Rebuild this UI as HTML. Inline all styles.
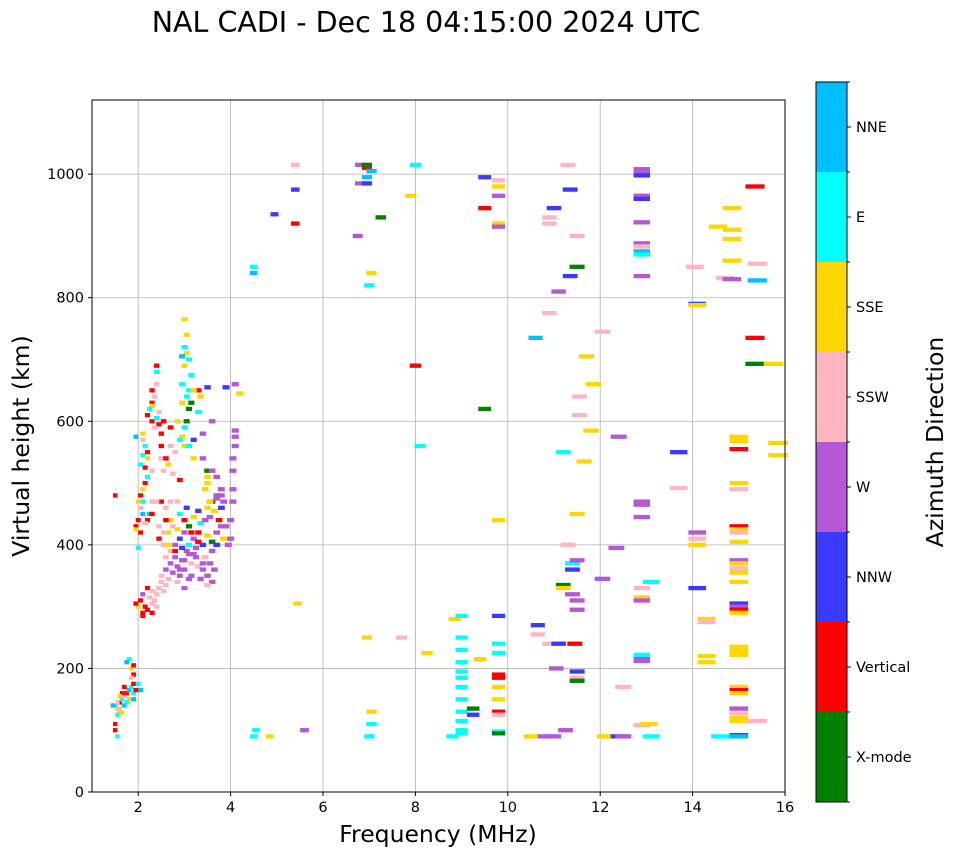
<!DOCTYPE html>
<html><head><meta charset="utf-8">
<style>
html,body{margin:0;padding:0;background:#fff;}
svg{display:block;font-family:"DejaVu Sans","Liberation Sans",sans-serif;}
</style></head>
<body>
<svg id="chart" width="958" height="857" viewBox="0 0 958 857">
<text x="426" y="32" font-size="28.5" text-anchor="middle">NAL CADI - Dec 18 04:15:00 2024 UTC</text>
<g id="grid"></g>
<g id="marks"></g>
<rect x="92" y="100" width="693" height="692" fill="none" stroke="#000" stroke-width="1"/>
<g id="axes"></g>
<text x="438" y="842" font-size="23.5" text-anchor="middle">Frequency (MHz)</text>
<text x="0" y="0" font-size="23.5" text-anchor="middle" transform="translate(29,446) rotate(-90)">Virtual height (km)</text>
<g id="cbar"></g>
<text x="0" y="0" font-size="23.5" text-anchor="middle" transform="translate(943,442) rotate(-90)">Azimuth Direction</text>
</svg>
<script>
const dirLabels=["X-mode","Vertical","NNW","W","SSW","SSE","E","NNE"];
const dirColors=["#008000","#ff0000","#3a3aff","#b558d6","#ffb6c1","#ffd700","#00ffff","#00bfff"];
const xTicks=[2,4,6,8,10,12,14,16];
const yTicks=[0,200,400,600,800,1000];
const lowCluster=[[1.5,140,7],[1.55,135,5],[1.6,145,1],[1.65,150,6],[1.7,155,4],[1.6,130,5],[1.55,125,6],[1.75,160,1],[1.8,165,7],[1.85,170,6],[1.7,140,7],[1.65,160,1],[1.8,150,5],[1.9,175,1],[1.9,190,1],[1.85,200,5],[1.8,215,6],[1.9,205,1],[1.75,210,7],[1.5,100,1],[1.55,90,6],[1.6,155,5],[1.7,170,1],[1.85,185,4],[2.05,165,7],[2.0,175,6],[1.9,160,6],[1.5,110,1],[1.55,145,4],[1.45,140,7],[1.6,135,4],[1.65,128,5],[1.75,145,6],[1.9,150,7],[1.95,165,1]];
const layerA=[[2.1,290,1],[2.15,300,1],[2.2,295,1],[2.3,305,4],[2.35,310,4],[2.4,320,4],[2.45,330,4],[2.05,310,1],[2.25,315,4],[2.1,320,3],[2.3,290,1],[2.5,340,4],[2.55,325,4],[2.6,335,4],[2.65,345,4],[2.2,330,1],[2.4,300,4],[2.0,300,5],[1.95,305,1],[2.1,285,1],[2.3,325,4]];
const layerB=[[2.6,360,3],[2.7,370,3],[2.75,355,3],[2.8,380,3],[2.85,365,3],[2.9,350,3],[2.95,375,3],[3.0,360,3],[3.05,390,3],[3.1,345,3],[3.15,370,4],[3.2,385,3],[3.25,395,3],[3.3,365,4],[3.35,345,3],[3.4,360,3],[3.45,380,4],[3.5,350,3],[3.55,370,3],[3.6,390,3],[3.65,360,3],[2.7,390,4],[2.8,400,3],[2.9,410,2],[3.0,420,3],[3.1,400,6],[3.2,410,3],[3.3,420,1],[3.4,400,2],[3.5,415,5],[3.6,405,0],[3.7,420,3],[3.75,440,1],[3.8,430,3],[3.85,410,5],[3.7,400,2],[2.5,350,4],[2.6,380,4],[2.55,400,4],[2.65,420,5],[2.7,440,5],[2.75,430,4],[2.85,425,5],[2.9,450,6],[3.0,440,1],[3.05,460,2],[3.1,430,0],[3.2,445,5],[3.3,455,2],[3.35,435,6],[3.45,440,3],[3.5,460,5],[3.55,445,3],[3.6,470,0],[3.65,455,5],[3.7,475,3],[3.8,480,3],[3.8,460,2],[3.9,430,3],[4.0,440,3],[4.0,410,3],[3.95,400,3],[2.95,395,2],[3.25,380,3],[2.85,340,4],[3.0,330,3],[3.15,350,3],[3.6,340,3],[3.5,335,4],[2.8,390,1],[3.3,405,1],[3.15,420,1],[2.9,360,3],[3.0,375,3],[3.1,385,3],[3.4,370,3]];
const layerC=[[3.5,500,5],[3.5,510,5],[3.45,490,5],[3.5,520,0],[3.4,540,3],[3.4,580,3],[3.6,520,3],[3.7,510,3],[3.8,490,3],[3.85,470,3],[3.7,480,3],[4.05,470,3],[4.05,490,3],[4.05,520,3],[4.1,560,3],[4.1,575,3],[4.05,540,3],[4.1,585,3],[4.1,660,3],[3.9,655,2],[4.2,645,5],[3.6,600,3],[3.3,650,1],[3.5,655,2],[3.35,640,5],[3.3,615,6],[3.2,570,2],[3.55,470,5]];
const upperCluster=[[3.0,765,5],[3.05,740,5],[3.0,720,6],[3.05,710,5],[2.95,705,7],[3.1,700,6],[3.0,690,5],[2.95,660,6],[3.1,650,6],[3.05,640,6],[3.15,630,0],[2.95,630,5],[3.1,620,0],[3.05,600,0],[3.0,590,6],[2.95,575,5],[3.0,560,5],[2.9,570,6],[3.15,675,6],[3.2,650,5],[2.85,600,5],[3.1,560,6],[3.2,540,5]];
const layerD=[[2.4,690,1],[2.4,680,6],[2.4,660,4],[2.35,640,4],[2.3,630,1],[2.3,625,5],[2.25,620,6],[2.2,610,1],[2.3,600,1],[2.4,605,6],[2.45,595,1],[2.35,590,4],[2.5,580,1],[2.1,580,5],[2.1,570,4],[2.15,560,6],[2.2,550,1],[2.1,545,6],[2.2,540,5],[2.05,530,6],[2.15,525,1],[2.2,510,6],[2.15,500,1],[2.3,520,4],[2.1,490,5],[2.05,480,1],[2.1,470,6],[2.0,470,5],[2.05,460,4],[2.1,450,7],[2.2,440,1],[2.0,440,1],[1.95,430,1],[2.05,420,1],[1.95,425,5],[2.15,435,4],[2.25,450,7],[2.3,470,4],[2.0,395,6],[2.5,540,4],[2.55,520,4],[2.6,540,1],[2.5,560,1],[2.65,530,5],[2.5,470,1],[2.4,470,4],[2.6,460,4],[2.7,470,4],[2.3,450,1],[2.45,430,4],[2.45,410,1],[2.55,420,4],[2.6,440,1],[2.65,400,5],[1.5,480,1],[2.3,650,1],[2.45,615,4],[2.55,600,1],[2.7,590,1],[2.7,560,4],[2.8,550,4],[2.75,515,4],[2.85,470,4],[2.9,505,1],[1.95,575,7]];
const sparse=[[4.5,850,6],[4.5,840,7],[4.55,100,6],[4.5,90,6],[4.95,935,2],[4.85,90,5],[5.4,920,1],[5.4,975,2],[5.4,1015,4],[5.45,305,5],[5.6,100,3],[6.8,1015,3],[6.8,985,3],[6.75,900,3],[6.95,1010,1],[6.95,1015,0],[6.95,995,7],[6.95,985,2],[7.05,1005,7],[7.0,820,6],[7.05,840,5],[7.25,930,0],[6.95,250,5],[7.05,130,5],[7.05,110,6],[7.0,90,6],[7.7,250,4],[7.9,965,5],[8.0,1015,6],[8.0,690,1],[8.1,560,6],[8.25,225,5],[8.85,280,5],[8.8,90,6],[9.0,285,6],[9.0,250,6],[9.0,230,6],[9.0,210,6],[9.0,195,6],[9.0,185,6],[9.0,170,6],[9.0,150,6],[9.0,130,6],[9.0,115,6],[9.0,100,6],[9.0,95,6],[9.25,135,0],[9.25,125,2],[9.5,620,0],[9.5,995,2],[9.5,945,1],[9.4,215,5],[9.8,990,4],[9.8,980,5],[9.8,965,3],[9.8,920,5],[9.8,915,3],[9.8,440,5],[9.8,285,2],[9.8,240,6],[9.8,225,6],[9.8,190,1],[9.8,185,1],[9.8,170,5],[9.8,150,5],[9.8,130,1],[9.8,125,4],[9.8,98,6],[9.8,95,0],[10.6,735,7],[10.65,270,2],[10.65,255,4],[10.5,90,5],[10.8,90,3],[10.9,775,4],[11.0,945,2],[10.9,930,4],[10.9,920,4],[10.9,240,4],[11.0,90,3],[11.1,810,3],[11.2,550,6],[11.2,335,0],[11.2,330,5],[11.1,240,2],[11.05,200,3],[11.25,100,3],[11.3,1015,4],[11.35,975,2],[11.35,835,2],[11.4,360,2],[11.4,370,6],[11.4,320,3],[11.3,400,4],[11.45,240,1],[11.5,900,4],[11.5,850,0],[11.55,610,4],[11.55,640,4],[11.5,450,5],[11.5,375,3],[11.5,310,3],[11.5,295,3],[11.5,195,2],[11.5,185,4],[11.5,180,0],[11.65,535,5],[11.7,705,5],[11.85,660,5],[11.8,585,5],[12.05,745,4],[12.05,345,3],[12.1,90,5],[12.4,575,3],[12.35,395,3],[12.5,170,4],[12.4,90,2],[12.5,90,3],[12.9,1008,3],[12.9,1003,3],[12.9,998,2],[12.9,965,3],[12.9,960,2],[12.9,922,3],[12.9,888,3],[12.9,883,4],[12.9,875,7],[12.9,870,6],[12.9,835,3],[12.9,470,3],[12.9,465,3],[12.9,445,3],[12.9,330,4],[12.9,315,5],[12.9,310,3],[12.9,222,6],[12.9,215,3],[12.9,212,3],[12.9,108,4],[13.05,110,5],[13.1,340,6],[13.1,90,6],[13.7,550,2],[13.7,492,4],[14.05,850,4],[14.1,790,2],[14.1,788,5],[14.1,420,3],[14.1,410,4],[14.1,400,5],[14.1,330,2],[14.3,280,5],[14.3,275,4],[14.3,220,5],[14.3,210,5],[14.55,915,5],[14.7,832,4],[14.6,90,6],[14.85,830,3],[14.85,945,5],[14.85,910,5],[14.85,895,5],[14.85,860,5],[15.0,575,5],[15.0,568,5],[15.0,555,1],[15.0,500,5],[15.0,490,4],[15.0,430,1],[15.0,425,5],[15.0,420,4],[15.0,405,5],[15.0,375,3],[15.0,370,5],[15.0,362,4],[15.0,355,5],[15.0,340,5],[15.0,305,2],[15.0,300,3],[15.0,295,1],[15.0,290,5],[15.0,235,5],[15.0,228,5],[15.0,222,5],[15.0,170,5],[15.0,165,1],[15.0,160,5],[15.0,135,3],[15.0,128,4],[15.0,120,5],[15.0,115,5],[15.0,92,2],[15.0,90,7],[15.4,855,4],[15.4,828,7],[15.35,980,1],[15.35,735,1],[15.35,693,0],[15.75,693,5],[15.85,565,5],[15.85,545,5],[15.4,115,4]];

const NS="http://www.w3.org/2000/svg";
const X0=92,X1=785,Y0=792,Y1=100,FMIN=1,FMAX=16,HMIN=0,HMAX=1120;
function xs(f){return X0+(f-FMIN)/(FMAX-FMIN)*(X1-X0);}
function ys(h){return Y0-(h-HMIN)/(HMAX-HMIN)*(Y0-Y1);}
function mk(tag,attrs,parent){const e=document.createElementNS(NS,tag);for(const k in attrs)e.setAttribute(k,attrs[k]);parent.appendChild(e);return e;}
const grid=document.getElementById('grid'),axes=document.getElementById('axes'),marks=document.getElementById('marks'),cbar=document.getElementById('cbar');
xTicks.forEach(t=>{
  const x=xs(t);
  const g=mk('line',{x1:x,x2:x,y1:Y1,y2:Y0,stroke:'#b0b0b0','stroke-width':0.8},grid);
  
  
  const tk=mk('line',{x1:x,x2:x,y1:Y0,y2:Y0+4,stroke:'#000'},axes);
  
  
  const tx=mk('text',{x:x,y:Y0+20,'font-size':14.5,'text-anchor':'middle'},axes);
  tx.textContent=t;
  
  
});
yTicks.forEach(t=>{
  const y=ys(t);
  const g=mk('line',{x1:X0,x2:X1,y1:y,y2:y,stroke:'#b0b0b0','stroke-width':0.8},grid);
  
  
  const tk=mk('line',{x1:X0-4,x2:X0,y1:y,y2:y,stroke:'#000'},axes);
  
  
  const tx=mk('text',{x:X0-8,y:y+5,'font-size':14.5,'text-anchor':'end'},axes);
  tx.textContent=t;
  
  
});
const groups=[lowCluster,layerA,layerB,layerC,upperCluster,layerD,sparse];
groups.forEach(arr=>arr.forEach(p=>{
  const f=p[0],h=p[1],d=p[2];
  const w=0.023*f+0.06;
  const x=xs(f-w/2),x2=xs(f+w/2);
  const y=ys(h+3.5),y2=ys(h-3.5);
  const r=mk('rect',{x:x,y:y,width:Math.max(3,x2-x),height:Math.max(3.5,y2-y),fill:dirColors[d]},marks);
  
  
}));
const CB_X=816,CB_W=31,CB_TOP=82,CB_BOT=802,n=dirLabels.length,seg=(CB_BOT-CB_TOP)/n;
dirLabels.forEach((lab,i)=>{
  const yTop=CB_BOT-(i+1)*seg;
  const r=mk('rect',{x:CB_X,y:yTop,width:CB_W,height:seg,fill:dirColors[i]},cbar);
  
  
  const yc=yTop+seg/2;
  const tk=mk('line',{x1:CB_X+CB_W,x2:CB_X+CB_W+4,y1:yc,y2:yc,stroke:'#000'},cbar);
  
  
  const tx=mk('text',{x:CB_X+CB_W+9,y:yc+5,'font-size':14.5},cbar);
  tx.textContent=lab;
  
  
});
for(let i=0;i<=n;i++){
  const y=CB_TOP+i*seg;
  const tk=mk('line',{x1:CB_X+CB_W,x2:CB_X+CB_W+3,y1:y,y2:y,stroke:'#000'},cbar);
  
  
}
const fr=mk('rect',{x:CB_X,y:CB_TOP,width:CB_W,height:CB_BOT-CB_TOP,fill:'none',stroke:'#000'},cbar);


</script>
</body></html>
